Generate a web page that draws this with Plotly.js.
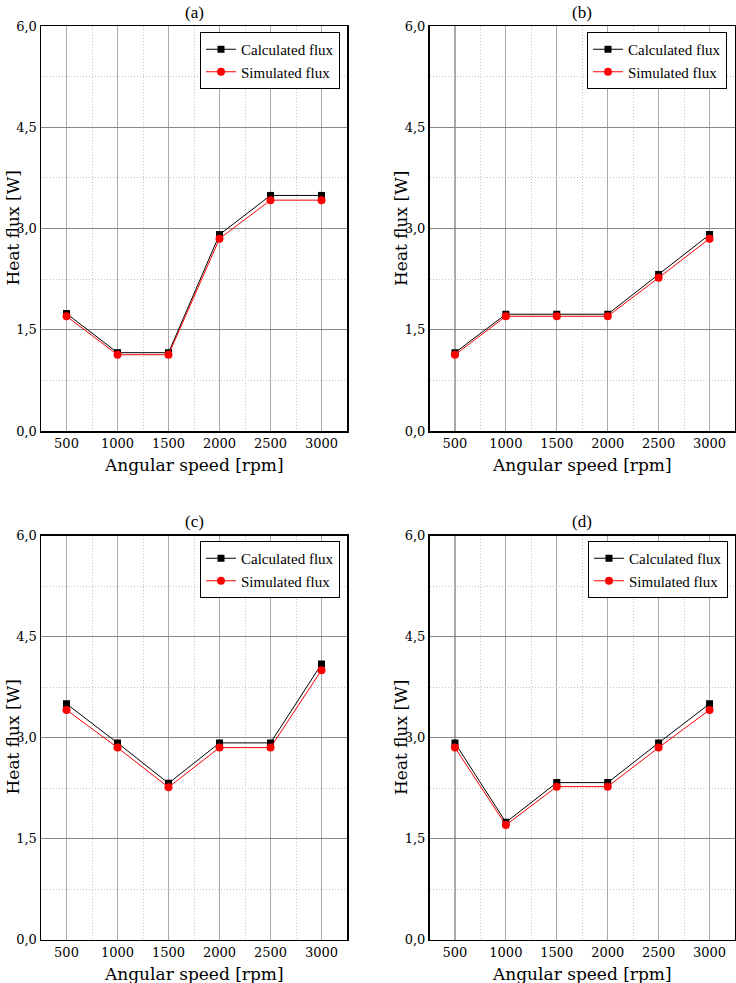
<!DOCTYPE html>
<html>
<head>
<meta charset="utf-8">
<script src="https://cdn.plot.ly/plotly-3.0.1.min.js"></script>
<style>html,body{margin:0;padding:0;background:#fff;}#plot{width:736px;height:983px;}</style>
</head>
<body>
<div id="plot"></div>
<script>
var speeds = [500, 1000, 1500, 2000, 2500, 3000];
var calcA = [1.74, 1.16, 1.16, 2.91, 3.49, 3.49];
var simA  = [1.70, 1.13, 1.13, 2.85, 3.42, 3.42];
var calcB = [1.16, 1.73, 1.73, 1.73, 2.32, 2.91];
var simB  = [1.13, 1.70, 1.70, 1.70, 2.27, 2.85];
var calcC = [3.50, 2.92, 2.32, 2.92, 2.92, 4.09];
var simC  = [3.41, 2.85, 2.26, 2.85, 2.85, 4.00];
var calcD = [2.92, 1.74, 2.33, 2.33, 2.92, 3.50];
var simD  = [2.85, 1.70, 2.27, 2.27, 2.85, 3.41];
var panelLabels = ['(a)', '(b)', '(c)', '(d)'];
var seriesNames = ['Calculated flux', 'Simulated flux'];
var yTicks = [0, 1.5, 3.0, 4.5, 6.0];
var xTitle = 'Angular speed [rpm]';
var yTitle = 'Heat flux [W]';

var calcs = [calcA, calcB, calcC, calcD];
var sims = [simA, simB, simC, simD];

var W = 736, H = 983;
// pixel boxes of plot areas [left, right, top, bottom]
var boxes = [
  [41, 347, 26, 431],
  [429.5, 735, 26, 431],
  [41, 347, 535.5, 939.5],
  [429.5, 735, 535.5, 939.5]
];
var legendPos = [[340, 32], [727, 32], [340, 541], [728, 541]];

var tickFont = {family: 'DejaVu Serif', size: 13, color: '#000'};
var titleFont = {family: 'DejaVu Serif', size: 17, color: '#000'};

var data = [];
var layout = {
  width: W, height: H,
  margin: {l: 0, r: 0, t: 0, b: 0},
  paper_bgcolor: '#fff', plot_bgcolor: '#fff',
  separators: ', ',
  showlegend: true,
  annotations: []
};

for (var i = 0; i < 4; i++) {
  var n = i === 0 ? '' : String(i + 1);
  var b = boxes[i];
  var legName = i === 0 ? 'legend' : 'legend' + (i + 1);
  data.push({
    x: speeds, y: calcs[i], type: 'scatter', mode: 'lines+markers',
    name: seriesNames[0], xaxis: 'x' + n, yaxis: 'y' + n, legend: legName,
    line: {color: '#000', width: 1},
    marker: {symbol: 'square', size: 7, color: '#000'}
  });
  data.push({
    x: speeds, y: sims[i], type: 'scatter', mode: 'lines+markers',
    name: seriesNames[1], xaxis: 'x' + n, yaxis: 'y' + n, legend: legName,
    line: {color: '#ff0000', width: 1},
    marker: {symbol: 'circle', size: 8, color: '#ff0000'}
  });
  layout['xaxis' + n] = {
    domain: [b[0] / W, b[1] / W],
    anchor: 'y' + n,
    range: [250, 3250],
    tickvals: speeds,
    ticks: '',
    showline: true, mirror: true, linecolor: '#000', linewidth: 1.5,
    showgrid: true, gridcolor: '#aaaaaa', gridwidth: 1.2,
    zeroline: false,
    tickfont: tickFont,
    minor: {tickvals: [750, 1250, 1750, 2250, 2750], showgrid: true, gridcolor: '#c4c4c4', griddash: '1px,2px', gridwidth: 1, ticks: ''},
    fixedrange: true
  };
  layout['yaxis' + n] = {
    domain: [1 - b[3] / H, 1 - b[2] / H],
    anchor: 'x' + n,
    range: [0, 6],
    tickvals: yTicks,
    tickformat: '.1f',
    ticks: '',
    showline: true, mirror: true, linecolor: '#000', linewidth: 1.5,
    showgrid: true, gridcolor: '#888888', gridwidth: 1,
    zeroline: false,
    tickfont: tickFont,
    minor: {tickvals: [0.75, 2.25, 3.75, 5.25], showgrid: true, gridcolor: '#c4c4c4', griddash: '1px,2px', gridwidth: 1, ticks: ''},
    fixedrange: true
  };
  layout[legName] = {
    x: legendPos[i][0] / W, y: 1 - legendPos[i][1] / H,
    xanchor: 'right', yanchor: 'top',
    bgcolor: '#fff', bordercolor: '#000', borderwidth: 1,
    font: {family: 'Liberation Serif', size: 15, color: '#000'},
    tracegroupgap: 0, itemwidth: 30
  };
  var cx = (b[0] + b[1]) / 2 / W;
  layout.annotations.push({
    text: panelLabels[i], xref: 'paper', yref: 'paper',
    x: cx, y: 1 - (b[2] - 14) / H, xanchor: 'center', yanchor: 'middle',
    showarrow: false, font: {family: 'Liberation Serif', size: 17, color: '#000'}
  });
  layout.annotations.push({
    text: xTitle, xref: 'paper', yref: 'paper',
    x: cx, y: 1 - (b[3] + 34) / H, xanchor: 'center', yanchor: 'middle',
    showarrow: false, font: titleFont
  });
  layout.annotations.push({
    text: yTitle, xref: 'paper', yref: 'paper', textangle: -90,
    x: (b[0] - 29) / W, y: 1 - ((b[2] + b[3]) / 2) / H, xanchor: 'center', yanchor: 'middle',
    showarrow: false, font: titleFont
  });
}

Plotly.newPlot('plot', data, layout, {staticPlot: true, displayModeBar: false});
</script>
</body>
</html>
